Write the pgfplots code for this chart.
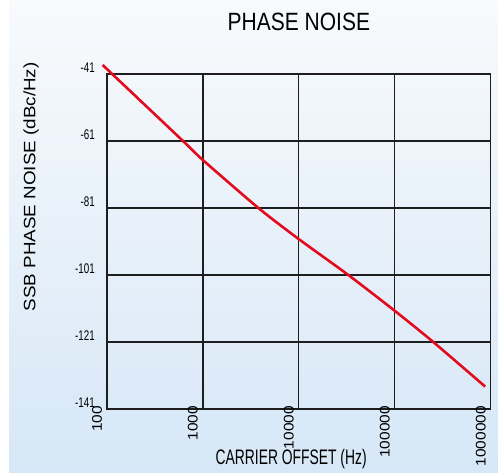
\documentclass[border=0pt]{standalone}
\usepackage{pgfplots}
\pgfplotsset{compat=1.18}
\usepackage{fontspec}
\setmainfont{Liberation Sans}
\newfontfamily\titlefont[FakeStretch=0.84]{Liberation Sans}
\newfontfamily\xlabfont[FakeStretch=0.66]{Liberation Sans}
\newfontfamily\ylabfont[FakeStretch=1.14]{Liberation Sans}
\newfontfamily\ytfont[FakeStretch=0.7]{Liberation Sans}
\newfontfamily\xtfont[FakeStretch=1.1]{Liberation Sans}
\definecolor{bgtop}{RGB}{248,250,252}
\definecolor{bgbot}{RGB}{214,231,247}
\definecolor{curve}{RGB}{228,10,30}
\definecolor{gridc}{RGB}{30,30,30}
\begin{document}
\begin{tikzpicture}
\fill[white] (0bp,0bp) rectangle (498bp,475bp);
\useasboundingbox (0bp,0bp) rectangle (498bp,475bp);
\shade[top color=bgtop, bottom color=bgbot] (9bp,2bp) rectangle (498bp,475bp);
\begin{axis}[
  at={(107bp,66bp)}, anchor=south west,
  scale only axis, width=383.7bp, height=335bp,
  xmode=log, log basis x=10,
  xmin=100, xmax=1000000, ymin=-141, ymax=-41,
  xtick={100,1000,10000,100000,1000000},
  xticklabels={100,1000,10000,100000,1000000},
  ytick={-141,-121,-101,-81,-61,-41},
  yticklabels={-141,-121,-101,-81,-61,-41},
  minor xtick={}, minor ytick={},
  major tick length=0pt,
  grid=major,
  grid style={gridc, line width=1.2bp},
  axis line style={gridc, line width=1.4bp},
  xticklabel style={font=\xtfont\fontsize{14bp}{14bp}\selectfont, xshift=-10bp, yshift=3bp, rotate=90, anchor=east, inner sep=0pt},
  yticklabel style={font=\ytfont\fontsize{14bp}{14bp}\selectfont, anchor=east, inner sep=0pt, xshift=-12bp, yshift=6bp},
  clip=false,
  axis background/.style={fill=none},
]
\addplot[curve, line width=2.6bp, smooth, tension=0.4] coordinates {
  (90,-38.3) (620,-61) (1000,-66.7) (3786,-81) (10000,-90.3)
  (32800,-101) (100000,-111.7) (252000,-121) (875000,-134.3)
};
\node[font=\titlefont\fontsize{25bp}{25bp}\selectfont, anchor=center] at (rel axis cs:0.5,1.156) {PHASE NOISE};
\node[font=\xlabfont\fontsize{21bp}{21bp}\selectfont, anchor=base] at (rel axis cs:0.48,-0.166) {CARRIER OFFSET (Hz)};
\node[font=\ylabfont\fontsize{16.5bp}{16.5bp}\selectfont, rotate=90, anchor=center] at (rel axis cs:-0.198,0.663) {SSB PHASE NOISE (dBc/Hz)};
\end{axis}
\end{tikzpicture}
\end{document}
